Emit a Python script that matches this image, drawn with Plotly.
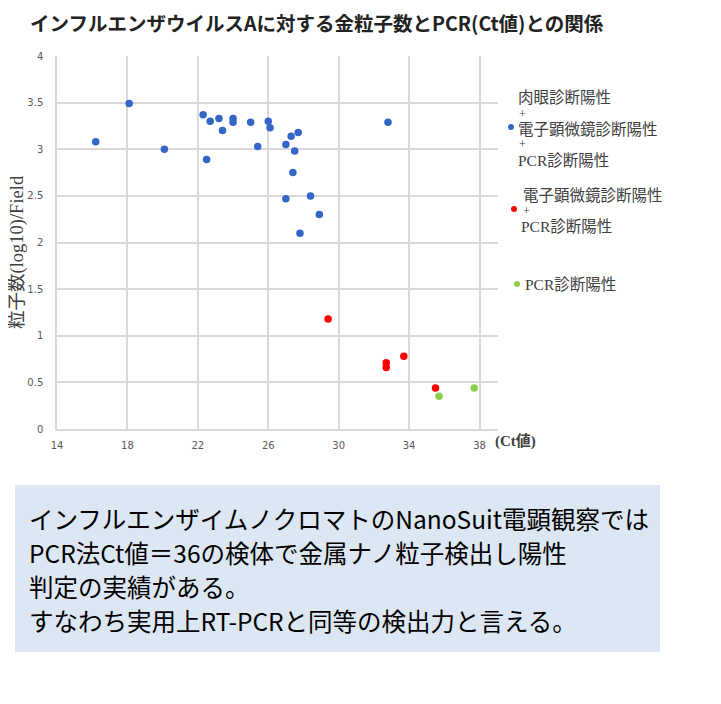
import plotly.graph_objects as go

# 金粒子数(log10)/Field と PCR Ct値
blue_ct = [16.2, 18.1, 20.1, 22.3, 22.7, 22.5, 23.2, 23.4, 24.0, 24.0, 25.0, 25.4,
           26.0, 26.1, 27.0, 27.0, 27.3, 27.7, 27.5, 27.4, 28.4, 28.9, 27.8, 32.8]
blue_val = [3.08, 3.49, 3.00, 3.37, 3.30, 2.89, 3.33, 3.20, 3.33, 3.29, 3.29, 3.03,
            3.30, 3.23, 3.05, 2.47, 3.14, 3.18, 2.98, 2.75, 2.50, 2.30, 2.10, 3.29]
red_ct = [29.4, 32.7, 32.7, 33.7, 35.5]
red_val = [1.18, 0.71, 0.66, 0.78, 0.44]
green_ct = [35.7, 37.7]
green_val = [0.35, 0.44]

legend_blue = ["肉眼診断陽性", "+", "電子顕微鏡診断陽性", "+", "PCR診断陽性"]
legend_red = ["電子顕微鏡診断陽性", "+", "PCR診断陽性"]
legend_green = ["PCR診断陽性"]

title_text = "インフルエンザウイルスAに対する金粒子数とPCR(Ct値)との関係"
y_title = "粒子数(log10)/Field"
x_unit = "(Ct値)"
note_lines = [
    "インフルエンザイムノクロマトのNanoSuit電顕観察では",
    "PCR法Ct値＝36の検体で金属ナノ粒子検出し陽性",
    "判定の実績がある。",
    "すなわち実用上RT-PCRと同等の検出力と言える。",
]

# ページ余白 8px を考慮 (座標はウィンドウ基準)
OFF = 8
W, H = 721 - 2 * OFF, 704 - 2 * OFF
L, R, T, B = 57, 498, 56, 429

def px(x):
    return (x - L) / (R - L)

def py(y):
    return (B - y) / (B - T)

serif = "Liberation Serif, Noto Sans CJK JP"
sans = "Noto Sans CJK JP"
BLUE, RED, GREEN = "#3366c6", "#ff0000", "#8fce4b"

fig = go.Figure()
for xs, ys, col in [(blue_ct, blue_val, BLUE), (red_ct, red_val, RED), (green_ct, green_val, GREEN)]:
    fig.add_trace(go.Scatter(x=xs, y=ys, mode="markers",
                             marker=dict(color=col, size=7.5), showlegend=False))

ann = []
shapes = []

# 凡例
def legend_block(lines, ys, xs, marker, col):
    for t, y, x in zip(lines, ys, xs):
        big = t != "+"
        ann.append(dict(text=t, x=px(x), y=py(y), xref="paper", yref="paper",
                        xanchor="left", yanchor="middle", showarrow=False,
                        font=dict(family=serif, size=15.5 if big else 12, color="#404040")))
    shapes.append(dict(type="circle", xref="paper", yref="paper",
                       xsizemode="pixel", ysizemode="pixel",
                       xanchor=px(marker[0]), yanchor=py(marker[1]),
                       x0=-3, x1=3, y0=-3, y1=3, fillcolor=col, line_width=0))

legend_block(legend_blue, [98, 114, 129, 144, 160], [516, 517, 516, 517, 516], (511, 127), BLUE)
legend_block(legend_red, [195, 211, 226], [521, 521, 519], (514, 209), RED)
legend_block(legend_green, [284], [523], (517, 284), GREEN)

# 軸タイトル
ann.append(dict(text="<b>" + x_unit + "</b>", x=px(493), y=py(441), xref="paper", yref="paper",
                xanchor="left", yanchor="middle", showarrow=False,
                font=dict(family=serif, size=15, color="#404040")))
ann.append(dict(text=y_title, x=px(17), y=py(252), xref="paper", yref="paper", textangle=-90,
                xanchor="center", yanchor="middle", showarrow=False,
                font=dict(family=serif, size=18.5, color="#404040")))

# 説明ボックス
shapes.append(dict(type="rect", xref="paper", yref="paper", x0=px(15), x1=px(660),
                   y0=py(485), y1=py(652), fillcolor="#dde7f3", line_width=0, layer="below"))
for i, t in enumerate(note_lines):
    ann.append(dict(text=t, x=px(27), y=py(518 + 34 * i), xref="paper", yref="paper",
                    xanchor="left", yanchor="middle", showarrow=False,
                    font=dict(family=sans, size=24.5, color="#000000")))

fig.update_layout(
    width=W, height=H, autosize=False,
    margin=dict(l=L - OFF, r=W - (R - OFF), t=T - OFF, b=H - (B - OFF)),
    paper_bgcolor="white", plot_bgcolor="white",
    title=dict(text="<b>" + title_text + "</b>", x=(30 - OFF) / W, xref="container", xanchor="left",
               y=1 - (24 - OFF) / H, yref="container", yanchor="middle",
               font=dict(family=sans, size=19.5, color="#222222")),
    annotations=ann, shapes=shapes,
    xaxis=dict(range=[14, 39.05], tick0=14, dtick=4, showgrid=True, gridcolor="#d9d9d9",
               gridwidth=1.5, zeroline=False, showline=True, linecolor="#d9d9d9", linewidth=1.5,
               ticks="", automargin=False,
               tickfont=dict(family="DejaVu Sans", size=10, color="#595959"),
               ticklabelstandoff=6),
    yaxis=dict(range=[0, 4], dtick=0.5, showgrid=True, gridcolor="#d9d9d9", gridwidth=1.5,
               zeroline=False, showline=True, linecolor="#d9d9d9", linewidth=1.5, ticks="",
               automargin=False,
               tickfont=dict(family="DejaVu Sans", size=10, color="#595959"),
               ticklabelstandoff=10),
)

fig.write_html("out.html")
